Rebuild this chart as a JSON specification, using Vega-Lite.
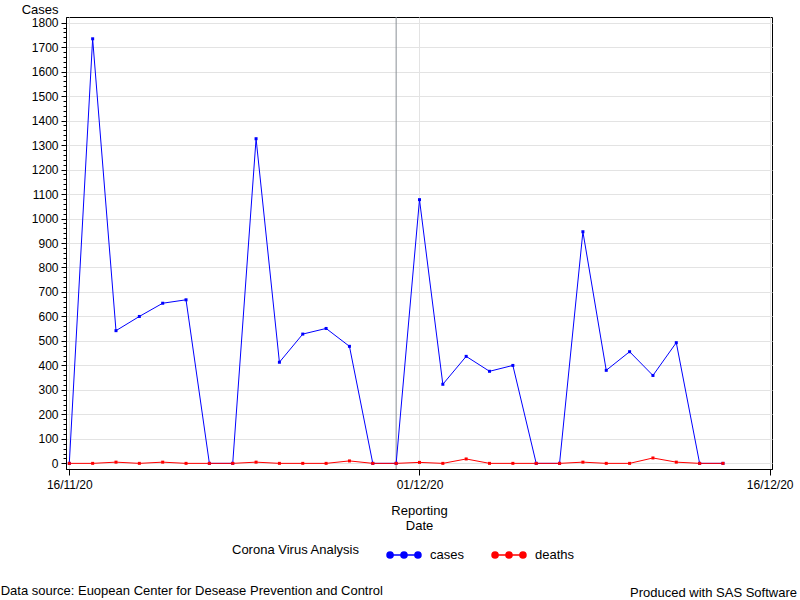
{
  "$schema": "https://vega.github.io/schema/vega-lite/v6.json",
  "background": "white",
  "padding": {"left": 0, "top": 2, "right": 2, "bottom": 0},
  "title": {
    "text": "Data source: Euopean Center for Desease Prevention and Control",
    "orient": "bottom", "anchor": "start", "frame": "bounds",
    "font": "Liberation Sans", "fontSize": 13, "fontWeight": "normal", "color": "#000000",
    "offset": -16, "dx": -20
  },
  "config": {
    "font": "Liberation Sans",
    "view": {"stroke": "#000000", "strokeWidth": 1},
    "axis": {
      "labelFont": "Liberation Sans", "labelFontSize": 12, "labelColor": "#000000",
      "titleFont": "Liberation Sans", "titleFontSize": 13, "titleFontWeight": "normal", "titleColor": "#000000",
      "domainColor": "#000000", "tickColor": "#000000", "gridColor": "#e3e3e3"
    },
    "legend": {
      "labelFont": "Liberation Sans", "titleFont": "Liberation Sans"
    }
  },
  "vconcat": [
    {
      "width": 706,
      "height": 452,
      "title": {
        "text": "Produced with SAS Software",
        "orient": "bottom", "anchor": "end", "frame": "group",
        "font": "Liberation Sans", "fontSize": 13, "fontWeight": "normal", "color": "#000000",
        "dx": 25, "offset": 55
      },
      "layer": [
        {
          "data": {"values": [{}]},
          "mark": {"type": "rule", "color": "#8a8f96", "strokeWidth": 1},
          "encoding": {
            "x": {"datum": {"year": 2020, "month": 11, "date": 30, "utc": true}, "type": "temporal"}
          }
        },
        {
          "data": {
            "values": [
              {"date": "2020-11-16", "cases": 0, "deaths": 0},
              {"date": "2020-11-17", "cases": 1734, "deaths": 0},
              {"date": "2020-11-18", "cases": 542, "deaths": 5},
              {"date": "2020-11-19", "cases": 600, "deaths": 0},
              {"date": "2020-11-20", "cases": 654, "deaths": 5},
              {"date": "2020-11-21", "cases": 668, "deaths": 0},
              {"date": "2020-11-22", "cases": 0, "deaths": 0},
              {"date": "2020-11-23", "cases": 0, "deaths": 0},
              {"date": "2020-11-24", "cases": 1326, "deaths": 5},
              {"date": "2020-11-25", "cases": 413, "deaths": 0},
              {"date": "2020-11-26", "cases": 528, "deaths": 0},
              {"date": "2020-11-27", "cases": 551, "deaths": 0},
              {"date": "2020-11-28", "cases": 478, "deaths": 10},
              {"date": "2020-11-29", "cases": 0, "deaths": 0},
              {"date": "2020-11-30", "cases": 0, "deaths": 0},
              {"date": "2020-12-01", "cases": 1077, "deaths": 4},
              {"date": "2020-12-02", "cases": 323, "deaths": 0},
              {"date": "2020-12-03", "cases": 437, "deaths": 18},
              {"date": "2020-12-04", "cases": 376, "deaths": 0},
              {"date": "2020-12-05", "cases": 400, "deaths": 0},
              {"date": "2020-12-06", "cases": 0, "deaths": 0},
              {"date": "2020-12-07", "cases": 0, "deaths": 0},
              {"date": "2020-12-08", "cases": 946, "deaths": 5},
              {"date": "2020-12-09", "cases": 380, "deaths": 0},
              {"date": "2020-12-10", "cases": 456, "deaths": 0},
              {"date": "2020-12-11", "cases": 359, "deaths": 22},
              {"date": "2020-12-12", "cases": 493, "deaths": 5},
              {"date": "2020-12-13", "cases": 0, "deaths": 0},
              {"date": "2020-12-14", "cases": 0, "deaths": 0}
            ]
          },
          "transform": [{"fold": ["cases", "deaths"], "as": ["series", "value"]}],
          "mark": {"type": "line", "strokeWidth": 1, "point": {"filled": true, "size": 9, "shape": "square"}},
          "encoding": {
            "x": {
              "field": "date", "type": "temporal",
              "scale": {
                "type": "utc",
                "domain": [
                  {"year": 2020, "month": 11, "date": 15, "hours": 20, "minutes": 36, "utc": true},
                  {"year": 2020, "month": 12, "date": 16, "hours": 2, "minutes": 24, "utc": true}
                ]
              },
              "axis": {
                "values": [
                  {"year": 2020, "month": 11, "date": 16, "utc": true},
                  {"year": 2020, "month": 12, "date": 1, "utc": true},
                  {"year": 2020, "month": 12, "date": 16, "utc": true}
                ],
                "labelExpr": "utcFormat(datum.value, '%d/%m/%y')",
                "title": ["Reporting", "Date"],
                "grid": true, "tickSize": 6, "labelPadding": 4, "titlePadding": 14,
                "labelFlush": false, "titleLineHeight": 15
              }
            },
            "y": {
              "field": "value", "type": "quantitative",
              "scale": {"domain": [-23, 1823], "nice": false, "zero": false},
              "axis": {
                "values": [0,20,40,60,80,100,120,140,160,180,200,220,240,260,280,300,320,340,360,380,400,420,440,460,480,500,520,540,560,580,600,620,640,660,680,700,720,740,760,780,800,820,840,860,880,900,920,940,960,980,1000,1020,1040,1060,1080,1100,1120,1140,1160,1180,1200,1220,1240,1260,1280,1300,1320,1340,1360,1380,1400,1420,1440,1460,1480,1500,1520,1540,1560,1580,1600,1620,1640,1660,1680,1700,1720,1740,1760,1780,1800],
                "format": "d",
                "labelExpr": "datum.value % 100 === 0 ? datum.label : ''",
                "tickSize": {"condition": {"test": "datum.value % 100 === 0", "value": 5}, "value": 3},
                "gridOpacity": {"condition": {"test": "datum.value % 100 === 0", "value": 1}, "value": 0},
                "grid": true,
                "labelPadding": 3, "labelFlush": false,
                "title": "Cases", "titleAngle": 0, "titleAlign": "right", "titleBaseline": "middle",
                "titleX": -8, "titleY": -8
              }
            },
            "color": {
              "field": "series", "type": "nominal",
              "scale": {"domain": ["cases", "deaths"], "range": ["#0000ff", "#ff0000"]},
              "legend": {
                "title": "Corona Virus Analysis",
                "orient": "none", "legendX": 166, "legendY": 520,
                "direction": "horizontal", "titleOrient": "left",
                "titleFontSize": 13, "titleFontWeight": "normal", "titleColor": "#000000",
                "labelFontSize": 13, "labelColor": "#000000",
                "symbolType": "M-0.82,0L0.82,0M-1,0A0.18,0.18 0 1 1 -0.64,0A0.18,0.18 0 1 1 -1,0ZM-0.18,0A0.18,0.18 0 1 1 0.18,0A0.18,0.18 0 1 1 -0.18,0ZM0.64,0A0.18,0.18 0 1 1 1,0A0.18,0.18 0 1 1 0.64,0Z",
                "symbolSize": 1156, "symbolStrokeWidth": 1.5, "symbolOpacity": 1,
                "labelOffset": 8, "columnPadding": 24, "titlePadding": 26,
                "encode": {
                  "symbols": {
                    "update": {
                      "fill": {"scale": "color", "field": "value"},
                      "stroke": {"scale": "color", "field": "value"}
                    }
                  }
                }
              }
            }
          }
        }
      ]
    }
  ]
}
